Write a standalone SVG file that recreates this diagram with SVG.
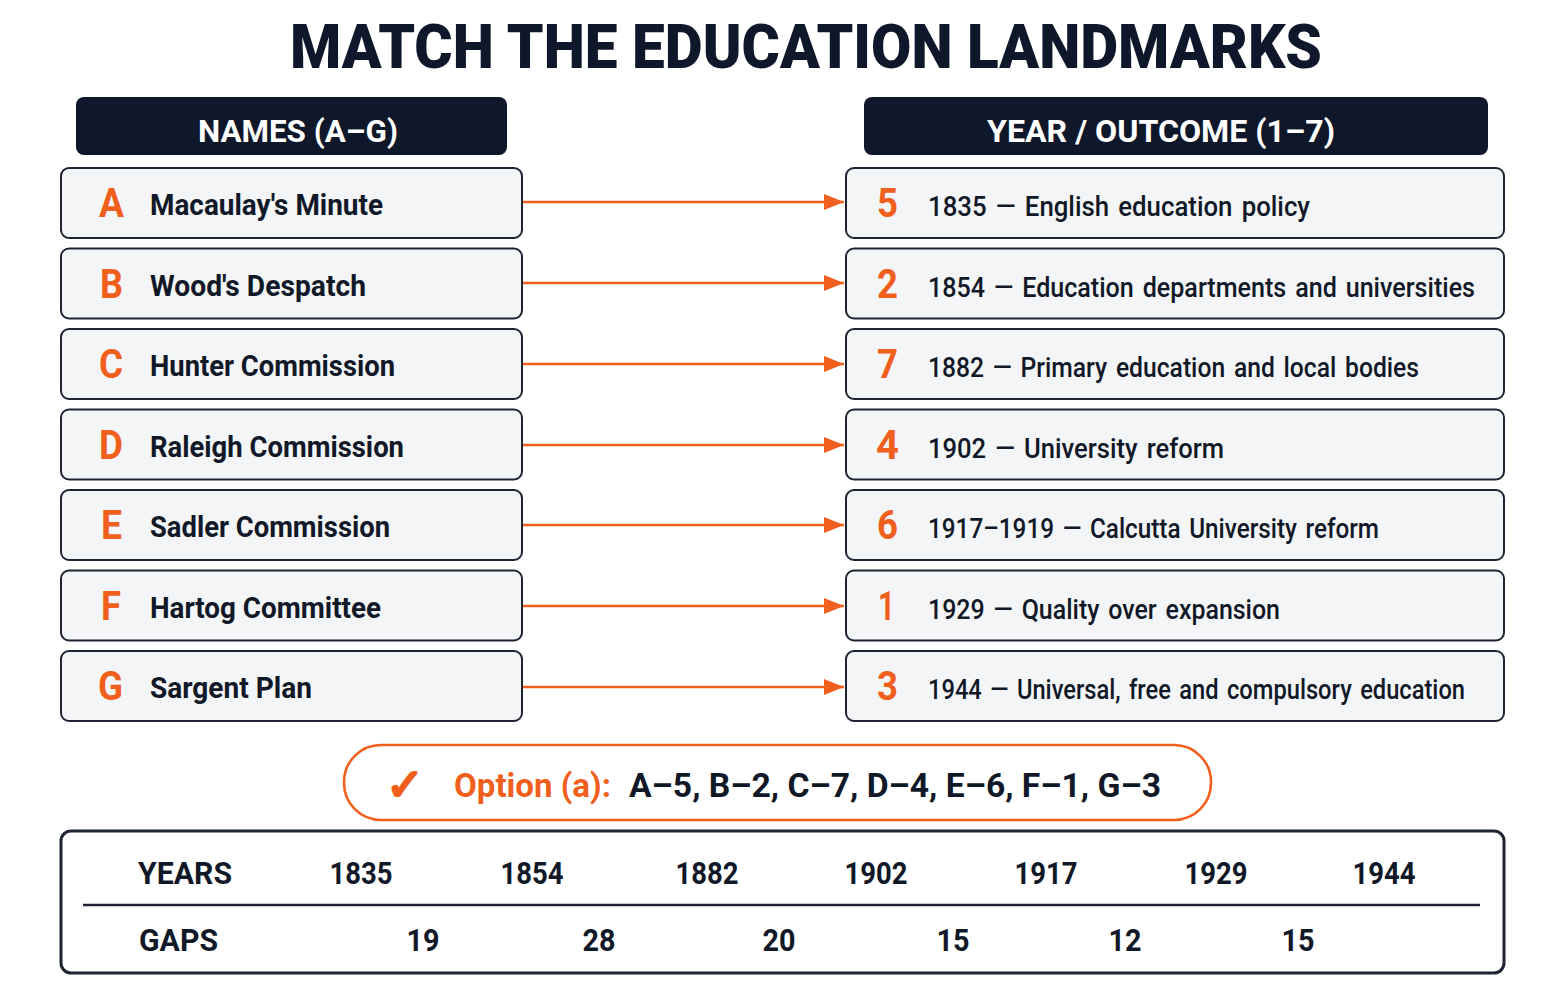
<svg xmlns="http://www.w3.org/2000/svg" width="1564" height="1006" viewBox="0 0 1564 1006">
<style>
.title{font-family:Roboto,"Liberation Sans",sans-serif;font-weight:900;font-size:62px;fill:#0f172a}
.hdr rect{fill:#0f172a}
.hdr text{font-family:Roboto,"Liberation Sans",sans-serif;font-weight:700;font-size:31px;fill:#fff;text-anchor:middle}
.row rect{fill:#f4f5f7;stroke:#1e2433;stroke-width:2}
.let{font-family:Roboto,"Liberation Sans",sans-serif;font-weight:700;font-size:41px;fill:#f0601c}
.name{font-family:Roboto,"Liberation Sans",sans-serif;font-weight:700;font-size:30px;fill:#111827}
.desc{font-family:Roboto,"Liberation Sans",sans-serif;font-weight:500;font-size:28px;fill:#111827;word-spacing:3px}
.conn line{stroke:#f0601c;stroke-width:2.6}
.opt{font-family:Roboto,"Liberation Sans",sans-serif;font-weight:700;font-size:34px}
.tbl{font-family:Roboto,"Liberation Sans",sans-serif;font-weight:700;font-size:31px;fill:#111827;text-anchor:middle}
</style>
<defs>
<marker id="ah" viewBox="0 0 20 16" refX="20" refY="8" markerWidth="20" markerHeight="16" markerUnits="userSpaceOnUse" orient="auto">
<path d="M0,0 L20,8 L0,16 Z" fill="#f0601c"/>
</marker>
</defs>
<rect width="1564" height="1006" fill="#ffffff"/>
<text class="title" x="806" y="68" text-anchor="middle" textLength="1032" lengthAdjust="spacingAndGlyphs">MATCH THE EDUCATION LANDMARKS</text>

<g id="hdr-names" class="hdr"><rect x="76" y="97" width="431" height="58" rx="8"/><text x="298" y="142" textLength="200" lengthAdjust="spacingAndGlyphs">NAMES (A–G)</text></g>
<g id="hdr-years" class="hdr"><rect x="864" y="97" width="624" height="58" rx="8"/><text x="1161" y="142" textLength="348" lengthAdjust="spacingAndGlyphs">YEAR / OUTCOME (1–7)</text></g>

<g id="nA" class="row"><rect x="61" y="168" width="461" height="70" rx="8"/><text class="let" x="99" y="217" textLength="25" lengthAdjust="spacingAndGlyphs">A</text><text class="name" x="150" y="215" textLength="233" lengthAdjust="spacingAndGlyphs">Macaulay's Minute</text></g>
<g id="nB" class="row"><rect x="61" y="248.5" width="461" height="70" rx="8"/><text class="let" x="100" y="297.5" textLength="23" lengthAdjust="spacingAndGlyphs">B</text><text class="name" x="150" y="295.5" textLength="216" lengthAdjust="spacingAndGlyphs">Wood's Despatch</text></g>
<g id="nC" class="row"><rect x="61" y="329" width="461" height="70" rx="8"/><text class="let" x="99" y="378" textLength="24" lengthAdjust="spacingAndGlyphs">C</text><text class="name" x="150" y="376" textLength="245" lengthAdjust="spacingAndGlyphs">Hunter Commission</text></g>
<g id="nD" class="row"><rect x="61" y="409.5" width="461" height="70" rx="8"/><text class="let" x="99" y="458.5" textLength="24" lengthAdjust="spacingAndGlyphs">D</text><text class="name" x="150" y="456.5" textLength="254" lengthAdjust="spacingAndGlyphs">Raleigh Commission</text></g>
<g id="nE" class="row"><rect x="61" y="490" width="461" height="70" rx="8"/><text class="let" x="101" y="539" textLength="21" lengthAdjust="spacingAndGlyphs">E</text><text class="name" x="150" y="537" textLength="240" lengthAdjust="spacingAndGlyphs">Sadler Commission</text></g>
<g id="nF" class="row"><rect x="61" y="570.5" width="461" height="70" rx="8"/><text class="let" x="101" y="619.5" textLength="20" lengthAdjust="spacingAndGlyphs">F</text><text class="name" x="150" y="617.5" textLength="231" lengthAdjust="spacingAndGlyphs">Hartog Committee</text></g>
<g id="nG" class="row"><rect x="61" y="651" width="461" height="70" rx="8"/><text class="let" x="98" y="700" textLength="25" lengthAdjust="spacingAndGlyphs">G</text><text class="name" x="150" y="698" textLength="162" lengthAdjust="spacingAndGlyphs">Sargent Plan</text></g>

<g id="r5" class="row"><rect x="846" y="168" width="658" height="70" rx="8"/><text class="let" x="877" y="217" textLength="21" lengthAdjust="spacingAndGlyphs">5</text><text class="desc" x="928" y="216" textLength="382" lengthAdjust="spacingAndGlyphs">1835 — English education policy</text></g>
<g id="r2" class="row"><rect x="846" y="248.5" width="658" height="70" rx="8"/><text class="let" x="877" y="297.5" textLength="21" lengthAdjust="spacingAndGlyphs">2</text><text class="desc" x="928" y="296.5" textLength="547" lengthAdjust="spacingAndGlyphs">1854 — Education departments and universities</text></g>
<g id="r7" class="row"><rect x="846" y="329" width="658" height="70" rx="8"/><text class="let" x="877" y="378" textLength="21" lengthAdjust="spacingAndGlyphs">7</text><text class="desc" x="928" y="377" textLength="491" lengthAdjust="spacingAndGlyphs">1882 — Primary education and local bodies</text></g>
<g id="r4" class="row"><rect x="846" y="409.5" width="658" height="70" rx="8"/><text class="let" x="876" y="458.5" textLength="23" lengthAdjust="spacingAndGlyphs">4</text><text class="desc" x="928" y="457.5" textLength="296" lengthAdjust="spacingAndGlyphs">1902 — University reform</text></g>
<g id="r6" class="row"><rect x="846" y="490" width="658" height="70" rx="8"/><text class="let" x="877" y="539" textLength="21" lengthAdjust="spacingAndGlyphs">6</text><text class="desc" x="928" y="538" textLength="451" lengthAdjust="spacingAndGlyphs">1917–1919 — Calcutta University reform</text></g>
<g id="r1" class="row"><rect x="846" y="570.5" width="658" height="70" rx="8"/><text class="let" x="878" y="619.5" textLength="17" lengthAdjust="spacingAndGlyphs">1</text><text class="desc" x="928" y="618.5" textLength="352" lengthAdjust="spacingAndGlyphs">1929 — Quality over expansion</text></g>
<g id="r3" class="row"><rect x="846" y="651" width="658" height="70" rx="8"/><text class="let" x="877" y="700" textLength="21" lengthAdjust="spacingAndGlyphs">3</text><text class="desc" x="928" y="699" textLength="537" lengthAdjust="spacingAndGlyphs">1944 — Universal, free and compulsory education</text></g>

<g id="connectors" class="conn">
<line x1="523" y1="202" x2="844" y2="202" marker-end="url(#ah)"/>
<line x1="523" y1="283" x2="844" y2="283" marker-end="url(#ah)"/>
<line x1="523" y1="364" x2="844" y2="364" marker-end="url(#ah)"/>
<line x1="523" y1="445" x2="844" y2="445" marker-end="url(#ah)"/>
<line x1="523" y1="525" x2="844" y2="525" marker-end="url(#ah)"/>
<line x1="523" y1="606" x2="844" y2="606" marker-end="url(#ah)"/>
<line x1="523" y1="687" x2="844" y2="687" marker-end="url(#ah)"/>
</g>

<g id="answer">
<rect x="344" y="745" width="867" height="75" rx="37" fill="#ffffff" stroke="#f0601c" stroke-width="2.6"/>
<text x="386" y="800" font-family="'DejaVu Sans',sans-serif" font-weight="700" font-size="44" fill="#f0601c" stroke="#f0601c" stroke-width="2.5" textLength="38" lengthAdjust="spacingAndGlyphs">✓</text>
<text class="opt" x="454" y="797" fill="#f0601c" textLength="157" lengthAdjust="spacingAndGlyphs">Option (a):</text>
<text class="opt" x="629" y="797" fill="#111827" textLength="532" lengthAdjust="spacingAndGlyphs">A–5, B–2, C–7, D–4, E–6, F–1, G–3</text>
</g>

<g id="table">
<rect x="61" y="831" width="1443" height="142" rx="10" fill="#ffffff" stroke="#1e2433" stroke-width="3"/>
<line x1="83" y1="905" x2="1480" y2="905" stroke="#1e2433" stroke-width="2.6"/>
<text class="tbl" x="138" y="884" style="text-anchor:start" textLength="94" lengthAdjust="spacingAndGlyphs">YEARS</text>
<text class="tbl" x="361" y="884" textLength="63" lengthAdjust="spacingAndGlyphs">1835</text>
<text class="tbl" x="532" y="884" textLength="63" lengthAdjust="spacingAndGlyphs">1854</text>
<text class="tbl" x="707" y="884" textLength="63" lengthAdjust="spacingAndGlyphs">1882</text>
<text class="tbl" x="876" y="884" textLength="63" lengthAdjust="spacingAndGlyphs">1902</text>
<text class="tbl" x="1046" y="884" textLength="63" lengthAdjust="spacingAndGlyphs">1917</text>
<text class="tbl" x="1216" y="884" textLength="63" lengthAdjust="spacingAndGlyphs">1929</text>
<text class="tbl" x="1384" y="884" textLength="63" lengthAdjust="spacingAndGlyphs">1944</text>
<text class="tbl" x="139" y="951" style="text-anchor:start" textLength="79" lengthAdjust="spacingAndGlyphs">GAPS</text>
<text class="tbl" x="423" y="951" textLength="33" lengthAdjust="spacingAndGlyphs">19</text>
<text class="tbl" x="599" y="951" textLength="33" lengthAdjust="spacingAndGlyphs">28</text>
<text class="tbl" x="779" y="951" textLength="33" lengthAdjust="spacingAndGlyphs">20</text>
<text class="tbl" x="953" y="951" textLength="33" lengthAdjust="spacingAndGlyphs">15</text>
<text class="tbl" x="1125" y="951" textLength="33" lengthAdjust="spacingAndGlyphs">12</text>
<text class="tbl" x="1298" y="951" textLength="33" lengthAdjust="spacingAndGlyphs">15</text>
</g>
</svg>
